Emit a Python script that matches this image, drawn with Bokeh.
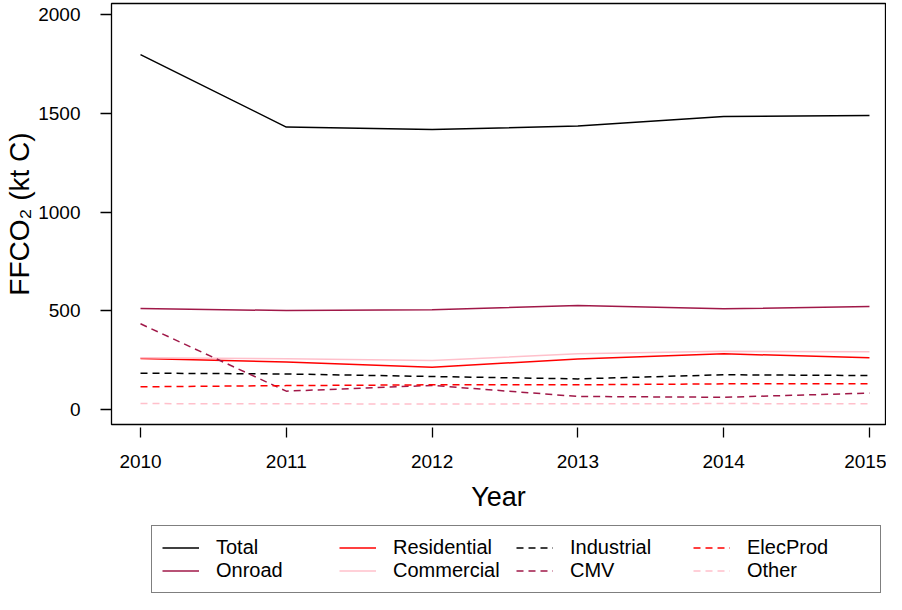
from bokeh.plotting import figure
from bokeh.layouts import column
from bokeh.models import Range1d, FixedTicker, Legend, LegendItem
from bokeh.embed import file_html
from bokeh.resources import INLINE

# ---- data ----
years = [2010, 2011, 2012, 2013, 2014, 2015]
total = [1797, 1430, 1418, 1435, 1483, 1489]
onroad = [511, 501, 505, 527, 510, 521]
residential = [258, 240, 214, 256, 282, 262]
commercial = [262, 257, 248, 282, 295, 292]
industrial = [184, 180, 167, 155, 176, 172]
cmv = [434, 93, 122, 66, 62, 83]
elecprod = [115, 121, 125, 125, 130, 130]
other = [30, 29, 28, 29, 30, 29]
y_ticks = [0, 500, 1000, 1500, 2000]

series = [
    ("Total", total, "#000000", "solid"),
    ("Onroad", onroad, "#A01848", "solid"),
    ("Residential", residential, "#FF0000", "solid"),
    ("Commercial", commercial, "#FFC0CB", "solid"),
    ("Industrial", industrial, "#000000", "7 5"),
    ("CMV", cmv, "#A01848", "7 5"),
    ("ElecProd", elecprod, "#FF0000", "7 5"),
    ("Other", other, "#FFC0CB", "7 5"),
]

FONT = "Liberation Sans"

# ---------------- main plot ----------------
p = figure(width=886, height=522, output_backend="svg", toolbar_location=None,
           x_range=Range1d(2009.801, 2015.110), y_range=Range1d(-75.9, 2055.7),
           min_border_left=111, min_border_right=1, min_border_top=3, min_border_bottom=98)
p.background_fill_color = "white"
p.border_fill_color = "white"
p.xgrid.visible = False
p.ygrid.visible = False
p.outline_line_color = "black"
p.outline_line_width = 1.3

for name, vals, col, dash in series:
    p.line(years, vals, line_color=col, line_width=1.5, line_dash=dash)

xa = p.xaxis[0]
xa.ticker = FixedTicker(ticks=years)
xa.axis_line_color = None
xa.major_tick_in = -3
xa.major_tick_out = 13
xa.major_tick_line_width = 1.3
xa.minor_tick_line_color = None
xa.major_label_text_font = FONT
xa.major_label_text_font_size = "19px"
xa.major_label_text_color = "black"
xa.major_label_standoff = 17
xa.axis_label = "Year"
xa.axis_label_text_font = FONT
xa.axis_label_text_font_size = "27px"
xa.axis_label_text_font_style = "normal"
xa.axis_label_text_color = "black"
xa.axis_label_standoff = 11

ya = p.yaxis[0]
ya.ticker = FixedTicker(ticks=y_ticks)
ya.axis_line_color = None
ya.major_tick_in = 0
ya.major_tick_out = 11
ya.major_tick_line_width = 1.3
ya.minor_tick_line_color = None
ya.major_label_orientation = "horizontal"
ya.major_label_text_font = FONT
ya.major_label_text_font_size = "19px"
ya.major_label_text_color = "black"
ya.major_label_standoff = 20
ya.axis_label = "FFCO₂ (kt C)"
ya.axis_label_text_font = FONT
ya.axis_label_text_font_size = "28px"
ya.axis_label_text_font_style = "normal"
ya.axis_label_text_color = "black"
ya.axis_label_standoff = 0

# ---------------- legend strip ----------------
lg = figure(width=886, height=72, output_backend="svg", toolbar_location=None,
            x_range=Range1d(2009.801, 2015.110), y_range=Range1d(10000, 10001),
            x_axis_type=None, y_axis_type=None,
            min_border_left=0, min_border_right=0, min_border_top=0, min_border_bottom=0)
lg.xgrid.visible = False
lg.ygrid.visible = False
lg.outline_line_color = None
lg.background_fill_color = "white"
lg.border_fill_color = "white"

items = []
for name, vals, col, dash in series:
    # same series, drawn outside this strip's visible range: only their legend keys show
    r = lg.line(years, vals, line_color=col, line_width=1.5, line_dash=dash)
    items.append(LegendItem(label=name, renderers=[r]))

legend = Legend(items=items, orientation="vertical", nrows=2,
                location=(40, 1), margin=0,
                glyph_width=37, glyph_height=23, label_standoff=17,
                label_width=123, label_height=23, spacing=0, padding=10,
                label_text_font=FONT, label_text_font_size="20px",
                label_text_color="black",
                border_line_color="black", border_line_width=1.3,
                background_fill_color="white", background_fill_alpha=1.0)
lg.add_layout(legend, "center")

layout = column(p, lg, spacing=0)
open("out.html", "w").write(file_html(layout, INLINE))
